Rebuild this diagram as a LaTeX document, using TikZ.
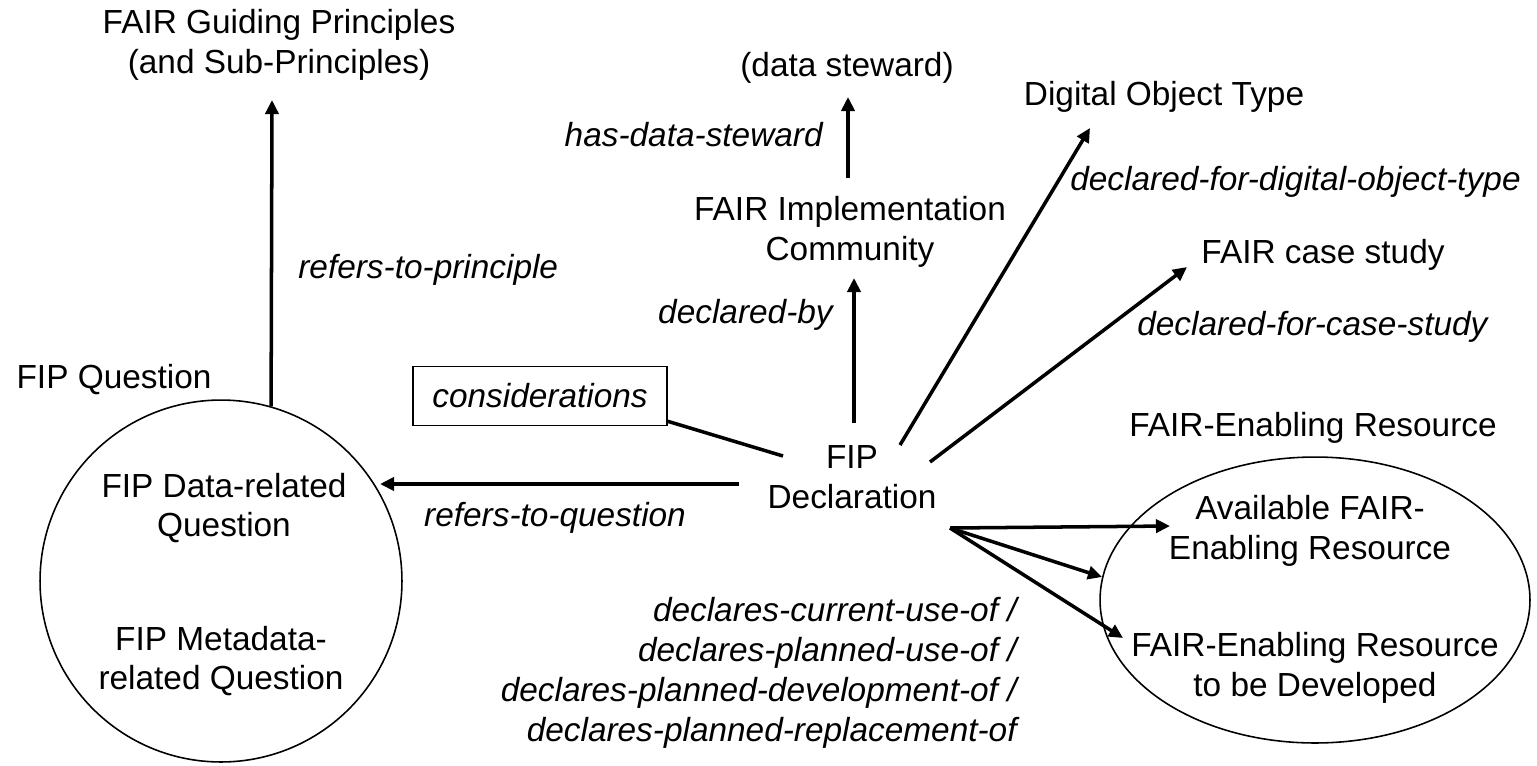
\documentclass[tikz,border=0pt]{standalone}
\usepackage{fontspec}
\setmainfont{Liberation Sans}
\usetikzlibrary{arrows.meta,calc,shapes.geometric}
\newcommand{\fipfont}{\fontsize{19}{22.7}\selectfont}

\begin{document}
\begin{tikzpicture}[x=0.02cm, y=-0.02cm,
    every node/.style={font=\fipfont, align=center, inner sep=0pt},
    rel/.style={font=\fipfont\itshape},
    link/.style={line width=2pt, -{Triangle[length=8pt,width=7.5pt]}},
    plain/.style={line width=2pt},
    group/.style={draw, line width=0.9pt}]
    \useasboundingbox (0,0) rectangle (1537,765);

    % Targets on top
    \node(principles) at (279,45) {FAIR Guiding Principles\\(and Sub-Principles)};
    \node(steward)    at (847,68) {(data steward)};
    \node(community)  at (850,232) {FAIR Implementation\\Community};
    \node(doType)     at (1164,97) {Digital Object Type};
    \node(caseStudy)  at (1323,255) {FAIR case study};

    % FIP questions
    \node(qTitle)    at (114,380) {FIP Question};
    \node(questions) at (221,581) [group, circle, minimum size=7.24cm] {};
    \node(dataQ)     at (224,508) {FIP Data-related\\Question};
    \node(metaQ)     at (221,661) {FIP Metadata-\\related Question};

    % The declaration itself
    \node(considerations) at (540,396) [group, rel, minimum width=5.08cm, minimum height=1.18cm] {considerations};
    \node(decl) at (852,477) {FIP\\Declaration};

    % FAIR-enabling resources
    \node(ferTitle)  at (1313,428) {FAIR-Enabling Resource};
    \node(resources) at (1315,600) [group, ellipse, minimum width=8.6cm, minimum height=5.72cm] {};
    \node(available) at (1310,531) {Available FAIR-\\Enabling Resource};
    \node(toDevelop) at (1315,668) {FAIR-Enabling Resource\\to be Developed};

    % Relation names
    \node(refersPrinciple) at (298,270) [rel, anchor=west] {refers-to-principle};
    \node(hasSteward)      at (823,135) [rel, anchor=east] {has-data-steward};
    \node(declaredBy)      at (833,315) [rel, anchor=east] {declared-by};
    \node(dotLabel)        at (1070,182) [rel, anchor=west] {declared-for-digital-object-type};
    \node(caseLabel)       at (1137,327) [rel, anchor=west] {declared-for-case-study};
    \node(refersQuestion)  at (555,518) [rel] {refers-to-question};
    \node(declaresLabel)   at (1017,673) [rel, anchor=east, align=right]
      {declares-current-use-of /\\declares-planned-use-of /\\declares-planned-development-of /\\declares-planned-replacement-of};

    \path (questions.74) edge[link] ($(principles)+(-7,55)$);
    \path ($(community)+(-2,-54)$) edge[link] ($(steward)+(1,29)$);
    \path ($(decl)+(2,-54)$) edge[link] ($(community)+(4,46)$);
    \path ($(decl)+(48,-32)$) edge[link] ($(doType)+(-74,31)$);
    \path ($(decl)+(78,-15)$) edge[link] ($(caseStudy)+(-136,12)$);
    \path ($(considerations.south east)+(0,-5)$) edge[plain] ($(decl)+(-69,-21)$);
    \path ($(decl)+(-113,7)$) edge[link] ($(questions)+(159,-97)$);
    % Three uses of resources
    \path ($(decl)+(98,51)$) edge[link] ($(available)+(-140,-5)$);
    \path ($(decl)+(98,51)$) edge[link] ($(resources)+(-213,-23)$);
    \path ($(decl)+(98,51)$) edge[link] ($(toDevelop)+(-192,-30)$);
\end{tikzpicture}
\end{document}
